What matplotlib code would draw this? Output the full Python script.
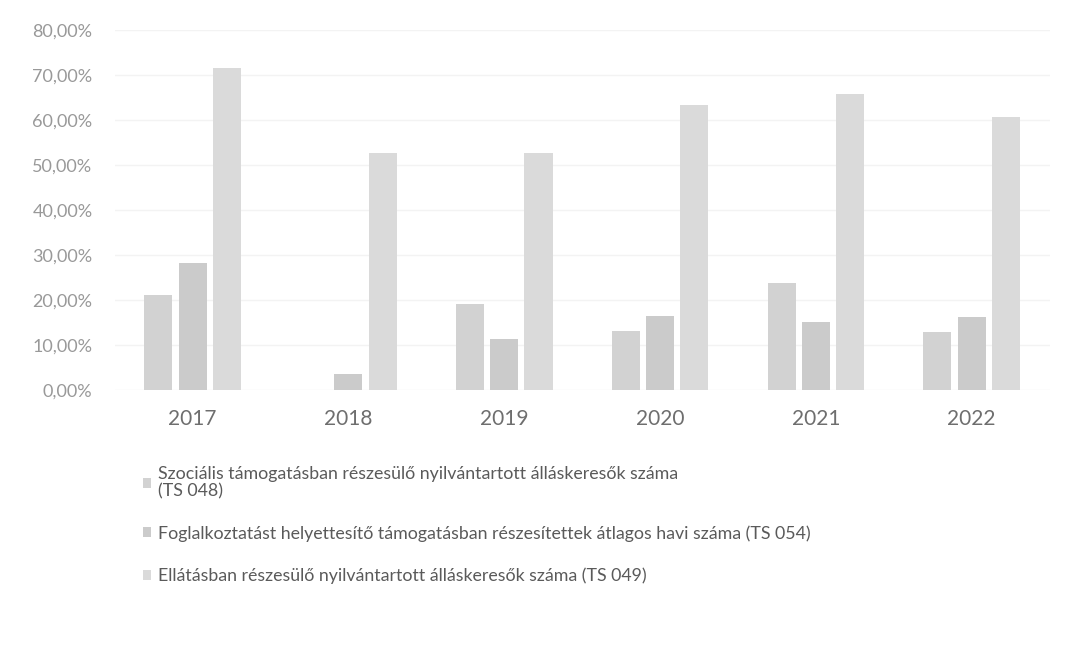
import matplotlib.pyplot as plt
import numpy as np
from matplotlib.patches import Patch
from matplotlib.ticker import FuncFormatter

years = ['2017', '2018', '2019', '2020', '2021', '2022']
ts048 = [21.1, 0.0, 19.1, 13.1, 23.7, 12.9]
ts054 = [28.3, 3.5, 11.3, 16.4, 15.1, 16.3]
ts049 = [71.5, 52.6, 52.6, 63.3, 65.7, 60.7]
labels = ['Szociális támogatásban részesülő nyilvántartott álláskeresők száma\n(TS 048)',
          'Foglalkoztatást helyettesítő támogatásban részesítettek átlagos havi száma (TS 054)',
          'Ellátásban részesülő nyilvántartott álláskeresők száma (TS 049)']
colors = ['#d2d2d2', '#cbcbcb', '#dadada']

plt.rcParams['font.family'] = ['Lato', 'DejaVu Sans']

fig = plt.figure(figsize=(10.82, 6.52), dpi=100)
ax = fig.add_axes([0.106, 0.402, 0.864, 0.552])

x = np.arange(len(years))
w = 0.18
gap = 0.04
for i, (vals, c) in enumerate(zip([ts048, ts054, ts049], colors)):
    ax.bar(x + (i - 1) * (w + gap), vals, w, color=c, zorder=2)

ax.set_xlim(-0.5, len(years) - 0.5)
ax.set_ylim(0, 80)
ax.set_yticks(np.arange(0, 81, 10))
ax.yaxis.set_major_formatter(FuncFormatter(lambda v, p: ('%.2f%%' % v).replace('.', ',')))
ax.set_xticks(x)
ax.set_xticklabels(years)
ax.tick_params(axis='y', length=0, labelsize=13, labelcolor='#999999', pad=16)
ax.tick_params(axis='x', length=0, labelsize=15, labelcolor='#6e6e6e', pad=14)
ax.grid(axis='y', color='#f3f3f3', lw=1, zorder=0)
for s in ax.spines.values():
    s.set_visible(False)

handles = [Patch(facecolor=c, edgecolor='none') for c in colors]
leg = fig.legend(handles, labels, loc='upper left', bbox_to_anchor=(0.117, 0.31),
                 frameon=False, fontsize=12.8, labelcolor='#5a5a5a', handlelength=0.5,
                 handleheight=0.5, handletextpad=0.35, labelspacing=1.45)
for t in leg.get_texts():
    t.set_linespacing(1.1)

fig.savefig('out.png', dpi=100)
